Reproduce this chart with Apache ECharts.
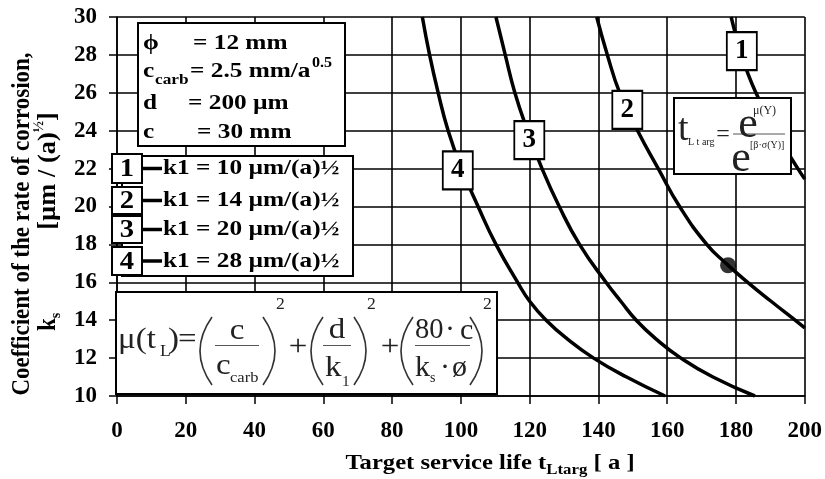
<!DOCTYPE html>
<html>
<head>
<meta charset="utf-8">
<script src="https://cdn.jsdelivr.net/npm/echarts@6/dist/echarts.min.js"></script>
<style>
  html, body { margin: 0; padding: 0; background: #fff; }
  #chart { width: 825px; height: 479px; }
</style>
</head>
<body>
<div id="chart"></div>
<script>
const SERIF = '"Liberation Serif", "Times New Roman", serif';

// Target service life t_Ltarg [a] (x) against corrosion-rate coefficient k_s (y)
const curveK1_10 = [[178.6, 30], [180, 29], [181.6, 28], [183.5, 27], [185.8, 26], [188.5, 25], [191.5, 24],
                    [194.6, 23], [198, 22], [200, 21.45]];
const curveK1_14 = [[139.5, 30], [142.6, 28], [146.2, 26], [151.4, 24], [157.4, 22], [163.6, 20], [171.5, 18],
                    [177.1, 17], [183.4, 16], [190.2, 15], [197.2, 14], [200, 13.6]];
const curveK1_20 = [[110.2, 30], [112.9, 28], [115.7, 26], [119.4, 24], [123.6, 22], [128.6, 20], [134.5, 18],
                    [142.2, 16], [146.5, 15], [151, 14], [156.8, 13], [164, 12], [173.3, 11], [185.5, 10]];
const curveK1_28 = [[88.8, 30], [90.9, 28], [93.4, 26], [96.3, 24], [100.2, 22], [105, 20], [110.2, 18],
                    [116.5, 16], [120, 15], [124.8, 14], [131, 13], [138.6, 12], [148.2, 11], [159.4, 10]];

// design point on the k1 = 14 curve
const designPoint = [[177.7, 16.9]];

// curve numbers and where their tags sit (t, k_s)
const curveTags = ['1', '2', '3', '4'];
const curveTagAt = [[181.7, 28.2], [148.4, 25.1], [119.9, 23.5], [99.1, 21.9]];

// k1 values in the key
const k1Values = [10, 14, 20, 28];

// axis ranges
const xRange = { min: 0, max: 200, step: 20 };
const yRange = { min: 10, max: 30, step: 2 };

const curves = [curveK1_10, curveK1_14, curveK1_20, curveK1_28];

const chart = echarts.init(document.getElementById('chart'), null, { renderer: 'canvas' });

const Z = 100;
function text(x, y, str, o) {
  o = o || {};
  return {
    type: 'text', x: x, y: y, z: Z + 2,
    rotation: o.rotation || 0,
    scaleX: o.scaleX || 1, scaleY: o.scaleY || 1,
    style: {
      text: str,
      fill: o.color || '#000',
      fontFamily: SERIF,
      fontWeight: o.bold === false ? 'normal' : 'bold',
      fontSize: o.size || 22,
      align: o.align || 'left',
      verticalAlign: 'middle',
      lineHeight: o.lineHeight,
      rich: o.rich
    }
  };
}
function box(x, y, w, h, lw) {
  return { type: 'rect', z: Z, shape: { x: x, y: y, width: w, height: h },
           style: { fill: '#fff', stroke: '#000', lineWidth: lw || 2 } };
}
function hline(x1, x2, y, lw, color) {
  return { type: 'line', z: Z + 1, shape: { x1: x1, y1: y, x2: x2, y2: y },
           style: { stroke: color || '#000', lineWidth: lw } };
}
// tall round bracket drawn as a quadratic curve; dir -1 opens right "(", +1 opens left ")"
function paren(xEnd, bulge, top, bottom, dir) {
  const mid = (top + bottom) / 2;
  const xb = xEnd + dir * bulge;
  return { type: 'bezierCurve', z: Z + 1,
           shape: { x1: xEnd, y1: top, x2: xEnd, y2: bottom, cpx1: 2 * xb - xEnd, cpy1: mid },
           style: { stroke: '#333', lineWidth: 1.6, fill: null } };
}

const graphics = [];

// parameter box
graphics.push(box(138, 23, 207, 123));
const S = 1.15;
graphics.push(text(143, 43, 'ϕ', { scaleX: S }));
graphics.push(text(193, 43, '= 12 mm', { scaleX: S }));
graphics.push(text(143, 71, 'c', { scaleX: S }));
graphics.push(text(155, 80, 'carb', { size: 15, scaleX: S }));
graphics.push(text(190, 71, '= 2.5 mm/a', { scaleX: S }));
graphics.push(text(312, 63, '0.5', { size: 14, scaleX: S }));
graphics.push(text(143, 103, 'd', { scaleX: S }));
graphics.push(text(188, 103, '= 200 µm', { scaleX: S }));
graphics.push(text(143, 132, 'c', { scaleX: S }));
graphics.push(text(197, 132, '= 30 mm', { scaleX: S }));

// key for k1
graphics.push(box(122, 156, 231, 120));
const keyRows = [[154, 29], [187, 27], [216, 27], [247, 28]];
keyRows.forEach(function (r, i) {
  const cy = r[0] + r[1] / 2;
  graphics.push(box(112, r[0], 30, r[1], 2));
  graphics.push(text(127, cy + 1, curveTags[i], { size: 26, align: 'center', scaleX: 1.1 }));
  graphics.push(hline(142, 162, cy, 3.5));
  graphics.push(text(163, cy, 'k1 = ' + k1Values[i] + ' µm/(a)½', { scaleX: S }));
});

// mean formula box
graphics.push(box(116, 292, 381, 102));
const F = { bold: false, color: '#222' };
function ftxt(x, y, s, size, align, sx) {
  return text(x, y, s, Object.assign({}, F, { size: size, align: align || 'left', scaleX: sx || 1.1 }));
}
graphics.push(ftxt(118, 340, 'μ(t', 30));
graphics.push(ftxt(160, 352, 'L', 16));
graphics.push(ftxt(168, 340, ')', 30));
graphics.push(ftxt(178, 340, '=', 30));
// (c / c_carb)^2
graphics.push(paren(212, 12, 317, 385, -1));
graphics.push(ftxt(237, 331, 'c', 30, 'center'));
graphics.push(hline(215, 259, 345.5, 1, '#555'));
graphics.push(ftxt(216, 366, 'c', 30));
graphics.push(ftxt(230, 378, 'carb', 15));
graphics.push(paren(263, 12, 317, 385, 1));
graphics.push(ftxt(276, 305, '2', 16));
graphics.push(ftxt(298, 347, '+', 30, 'center'));
// (d / k1)^2
graphics.push(paren(323, 12, 317, 385, -1));
graphics.push(ftxt(337, 330, 'd', 30, 'center'));
graphics.push(hline(323, 351, 345.5, 1, '#555'));
graphics.push(ftxt(325, 368, 'k', 30));
graphics.push(ftxt(342, 382, '1', 14));
graphics.push(paren(354, 12, 317, 385, 1));
graphics.push(ftxt(367, 305, '2', 16));
graphics.push(ftxt(390, 347, '+', 30, 'center'));
// (80·c / ks·ø)^2
graphics.push(paren(413, 12, 317, 385, -1));
graphics.push(ftxt(415, 330, '80', 30, 'left', 0.95));
graphics.push(ftxt(450, 330, '·', 30, 'center', 1.0));
graphics.push(ftxt(460, 331, 'c', 30, 'left', 1.0));
graphics.push(hline(415, 470, 345.5, 1, '#555'));
graphics.push(ftxt(415, 368, 'k', 30, 'left', 1.0));
graphics.push(ftxt(430, 378, 's', 14, 'left', 1.0));
graphics.push(ftxt(445, 368, '·', 30, 'center', 1.0));
graphics.push(ftxt(452, 368, 'ø', 30, 'left', 1.0));
graphics.push(paren(470, 12, 317, 385, 1));
graphics.push(ftxt(483, 305, '2', 16));

// target-life formula box
graphics.push(box(674, 98, 117, 76));
graphics.push(ftxt(678, 130, 't', 38, 'left', 1));
graphics.push(ftxt(688, 142, 'L t arg', 10, 'left', 1));
graphics.push(ftxt(723, 135, '=', 24, 'center', 1));
graphics.push(hline(733, 785, 134, 1, '#555'));
graphics.push(ftxt(748, 125, 'e', 44, 'center', 1));
graphics.push(ftxt(753, 111, 'μ(Y)', 12, 'left', 1));
graphics.push(ftxt(741, 159, 'e', 44, 'center', 1));
graphics.push(ftxt(750, 145, '[β·σ(Y)]', 10, 'left', 1));

// axis titles
graphics.push(text(22, 224, 'Coefficient of the rate of corrosion,', { size: 23, align: 'center', rotation: Math.PI / 2, scaleY: 1.1 }));
graphics.push(text(48, 171, '[µm / (a){sup|½}]', { size: 23, align: 'center', rotation: Math.PI / 2, scaleX: 1.15, scaleY: 1.1,
  lineHeight: 28, rich: { sup: { fontSize: 13, fontWeight: 'bold', fontFamily: SERIF, verticalAlign: 'top', lineHeight: 14 } } }));
graphics.push(text(48, 322, 'k{sub|s}', { size: 23, align: 'center', rotation: Math.PI / 2, scaleY: 1.1,
  lineHeight: 28, rich: { sub: { fontSize: 14, fontWeight: 'bold', fontFamily: SERIF, verticalAlign: 'bottom', lineHeight: 14 } } }));
graphics.push(text(490, 463, 'Target service life t{sub|Ltarg} [ a ]', { size: 22, align: 'center', scaleX: 1.12,
  lineHeight: 30, rich: { sub: { fontSize: 15, fontWeight: 'bold', fontFamily: SERIF, verticalAlign: 'bottom', lineHeight: 15 } } }));

const axisCommon = {
  type: 'value',
  axisLine: { show: true, onZero: false, lineStyle: { color: '#000', width: 1.5 } },
  axisTick: { show: true, inside: false, length: 8, lineStyle: { color: '#000', width: 1.5 } },
  splitLine: { show: true, lineStyle: { color: '#000', width: 1.6 } },
};

const series = curves.map(function (d, i) {
  return {
    type: 'line', data: d, smooth: 0.5, symbol: 'none', z: 3,
    lineStyle: { color: '#000', width: 3.5 },
    markPoint: {
      symbol: 'rect', symbolSize: [30, 38], silent: true,
      data: [{ coord: curveTagAt[i] }],
      itemStyle: { color: '#fff', borderColor: '#000', borderWidth: 2 },
      label: { show: true, position: 'inside', formatter: curveTags[i], color: '#000',
               fontFamily: SERIF, fontWeight: 'bold', fontSize: 27 }
    }
  };
});
series.push({
  type: 'scatter', data: designPoint, symbol: 'circle', symbolSize: 16, z: 4,
  itemStyle: { color: '#000' }
});

chart.setOption({
  animation: false,
  backgroundColor: '#fff',
  grid: { left: 117, top: 17, right: 18, bottom: 83, containLabel: false },
  xAxis: Object.assign({}, axisCommon, {
    min: xRange.min, max: xRange.max, interval: xRange.step,
    axisLabel: { margin: 24, color: '#000', fontFamily: SERIF, fontWeight: 'bold', fontSize: 23 }
  }),
  yAxis: Object.assign({}, axisCommon, {
    min: yRange.min, max: yRange.max, interval: yRange.step,
    axisLabel: { margin: 20, color: '#000', fontFamily: SERIF, fontWeight: 'bold', fontSize: 23 }
  }),
  series: series,
  graphic: { elements: graphics }
});
</script>
</body>
</html>
